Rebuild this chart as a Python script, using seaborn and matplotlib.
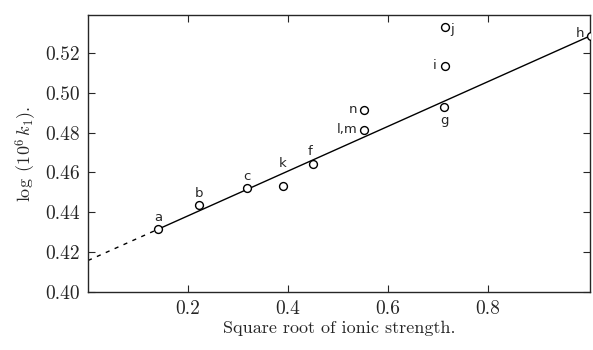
import matplotlib
matplotlib.use("Agg")
import matplotlib.pyplot as plt
import seaborn as sns
import pandas as pd

# measured points (sqrt ionic strength, log(1e6 k1))
point_labels = ["a", "b", "c", "k", "f", "l,m", "n", "g", "i", "j", "h"]
sqrt_I = [0.14, 0.222, 0.318, 0.39, 0.45, 0.552, 0.552, 0.712, 0.714, 0.714, 1.006]
log_k1 = [0.4315, 0.4435, 0.452, 0.453, 0.464, 0.4815, 0.4915, 0.493, 0.5135, 0.533, 0.5285]

# fitted line and its extrapolation to zero
fit_x = [0.14, 1.004]
fit_y = [0.4315, 0.5285]
extr_x = [0.0, 0.14]
extr_y = [0.4158, 0.4315]

# label offsets in points (dx, dy, ha, va)
label_pos = {
    "a": (0, 4, "center", "bottom"),
    "b": (0, 4, "center", "bottom"),
    "c": (0, 4, "center", "bottom"),
    "k": (0, 12, "center", "bottom"),
    "f": (-2, 5, "center", "bottom"),
    "l,m": (-5, 0, "right", "center"),
    "n": (-5, 0, "right", "center"),
    "g": (0, -5, "center", "top"),
    "i": (-6, 0, "right", "center"),
    "j": (4, -2, "left", "center"),
    "h": (-5, 2, "right", "center"),
}

sns.set_style("ticks")
plt.rcParams['font.family'] = ['cmr10', 'DejaVu Serif']
plt.rcParams['mathtext.fontset'] = 'cm'
plt.rcParams['axes.formatter.use_mathtext'] = True

df = pd.DataFrame({"x": sqrt_I, "y": log_k1, "label": point_labels})

fig = plt.figure(figsize=(5.93, 3.5), dpi=100)
ax = fig.add_axes([0.1484, 0.1657, 0.8466, 0.7913])

sns.lineplot(x=fit_x, y=fit_y, ax=ax, color="black", lw=1.0)
sns.lineplot(x=extr_x, y=extr_y, ax=ax, color="black", lw=1.0, linestyle=(0, (3, 4)))
sns.scatterplot(data=df, x="x", y="y", ax=ax, s=32, facecolor="white",
                edgecolor="black", linewidth=1.0, zorder=3)

for lab, x, y in zip(point_labels, sqrt_I, log_k1):
    dx, dy, ha, va = label_pos[lab]
    ax.annotate(lab, (x, y), xytext=(dx, dy), textcoords="offset points",
                ha=ha, va=va, fontsize=9.5, family="DejaVu Sans",
                annotation_clip=False)

ax.set_xlim(0, 1.004)
ax.set_ylim(0.40, 0.539)
ax.set_xticks([0.2, 0.4, 0.6, 0.8])
ax.set_yticks([0.40, 0.42, 0.44, 0.46, 0.48, 0.50, 0.52])
ax.set_yticklabels(["0.40", "0.42", "0.44", "0.46", "0.48", "0.50", "0.52"])
ax.set_xticklabels(["0.2", "0.4", "0.6", "0.8"])
ax.tick_params(direction="in", top=True, right=True, length=5, width=0.8,
               labelsize=14, pad=6)
for s in ax.spines.values():
    s.set_linewidth(1.0)

ax.set_xlabel("Square root of ionic strength.", fontsize=13, labelpad=2)
ax.set_ylabel(r"$\log\ (10^6\,k_1).$", fontsize=13, labelpad=4)

fig.savefig("out.png", dpi=100)
